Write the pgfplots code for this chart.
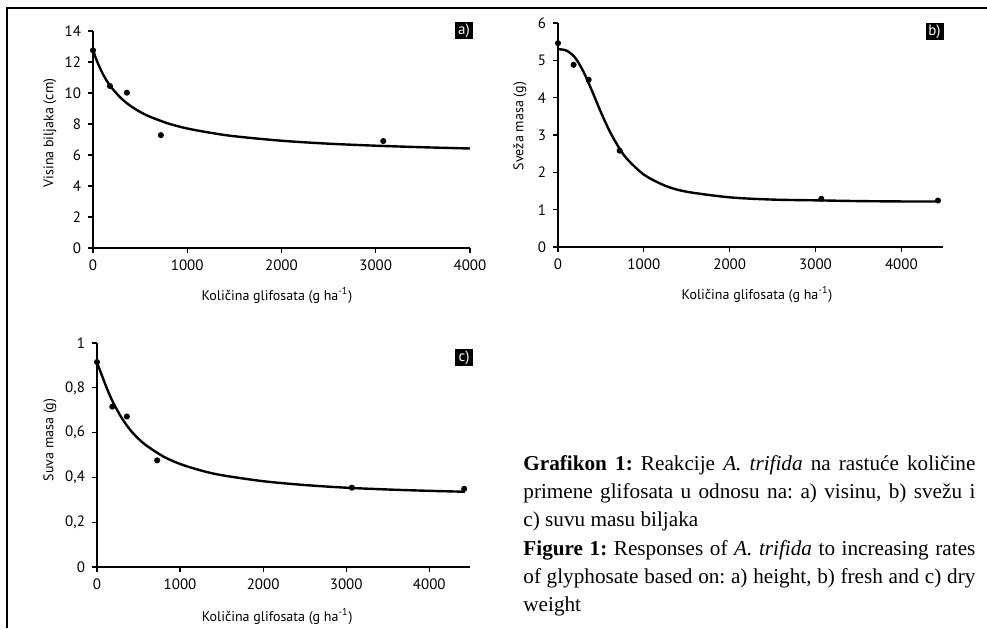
\documentclass[border=0pt]{standalone}
\usepackage{fontspec}
\setmainfont{Liberation Serif}
\setsansfont{PT Sans}
\usepackage{pgfplots}
\pgfplotsset{compat=1.18}

\pgfplotsset{
  panel/.style={
    scale only axis, anchor=south west,
    axis x line*=bottom, axis y line*=left,
    axis line style={line width=0.6pt},
    tick align=outside, major tick length=2.5pt,
    tick style={line width=0.6pt, black},
    xmin=0, ymin=0,
    xtick={0,1000,2000,3000,4000},
    /pgf/number format/assume math mode=true,
    /pgf/number format/use comma,
    /pgf/number format/1000 sep={},
    scaled x ticks=false,
    tick label style={font=\sffamily\fontsize{7.5}{9}\selectfont},
    label style={font=\sffamily\fontsize{7}{8.5}\selectfont},
    clip=false,
  },
  fitline/.style={line width=1.2pt, black, smooth, no markers},
  obs/.style={only marks, mark=*, mark size=1.3pt, black},
}
\tikzset{lab/.style={fill=black, text=white, font=\sffamily\fontsize{7.5}{9}\selectfont,
  inner sep=0pt, minimum width=9pt, minimum height=8.5pt}}

\begin{document}
\begin{tikzpicture}
\useasboundingbox (0pt,0pt) rectangle (493.5pt,314pt);
\draw[line width=0.8pt] (3.5pt,0pt) -- (3.5pt,310pt) -- (493.5pt,310pt);

% a) height
\begin{axis}[panel, at={(46.5pt,190pt)}, width=188.5pt, height=108.5pt,
  xmax=4000, ymax=14, ytick={0,2,4,6,8,10,12,14},
  xlabel={Količina glifosata (g ha\textsuperscript{-1})},
  ylabel={Visina biljaka (cm)},
  xlabel style={at={(axis description cs:0.488,-0.217)}, anchor=center},
  ylabel style={at={(axis description cs:-0.114,0.53)}, anchor=center}]
\addplot[fitline] coordinates {
  (0,12.80) (25,12.33) (50,11.94) (100,11.28) (150,10.75) (200,10.32)
  (300,9.65) (400,9.16) (500,8.78) (600,8.48) (800,8.03) (1000,7.71)
  (1250,7.43) (1500,7.21) (2000,6.92) (2500,6.73) (3000,6.60) (3500,6.50) (4000,6.42)};
\addplot[obs] coordinates {(0,12.75) (180,10.45) (360,10.02) (720,7.28) (3080,6.90)};
\end{axis}

% b) fresh weight
\begin{axis}[panel, at={(279pt,190.5pt)}, width=192.5pt, height=112pt,
  xmax=4485, ymax=6, ytick={0,1,2,3,4,5,6},
  xlabel={Količina glifosata (g ha\textsuperscript{-1})},
  ylabel={Sveža masa (g)},
  xlabel style={at={(axis description cs:0.517,-0.214)}, anchor=center},
  ylabel style={at={(axis description cs:-0.099,0.54)}, anchor=center}]
\addplot[fitline] coordinates {
  (0,5.30) (100,5.26) (200,5.07) (300,4.68) (400,4.16) (500,3.61)
  (600,3.11) (700,2.70) (800,2.37) (1000,1.94) (1250,1.64) (1500,1.48)
  (2000,1.33) (2500,1.27) (3000,1.25) (3500,1.23) (4000,1.22) (4430,1.22)};
\addplot[obs] coordinates {(0,5.46) (182,4.88) (357,4.48) (718,2.58) (3067,1.29) (4426,1.245)};
\end{axis}

% c) dry weight
\begin{axis}[panel, at={(48.5pt,30.5pt)}, width=186.5pt, height=112pt,
  xmax=4490, ymax=1, ytick={0,0.2,0.4,0.6,0.8,1},
  xlabel={Količina glifosata (g ha\textsuperscript{-1})},
  ylabel={Suva masa (g)},
  xlabel style={at={(axis description cs:0.483,-0.223)}, anchor=center},
  ylabel style={at={(axis description cs:-0.126,0.567)}, anchor=center}]
\addplot[fitline] coordinates {
  (0,0.910) (25,0.889) (50,0.864) (100,0.815) (150,0.770) (200,0.730)
  (300,0.664) (400,0.612) (500,0.572) (600,0.541) (800,0.493) (1000,0.460)
  (1250,0.431) (1500,0.410) (2000,0.383) (2500,0.366) (3000,0.354)
  (3500,0.346) (4000,0.340) (4430,0.336)};
\addplot[obs] coordinates {(0,0.915) (184,0.716) (360,0.672) (724,0.476) (3068,0.354) (4420,0.349)};
\end{axis}

\node[lab] at (232pt,298.75pt) {a)};
\node[lab] at (467.25pt,298.25pt) {b)};
\node[lab] at (232pt,135.25pt) {c)};

\node[anchor=north west, inner sep=0pt, text width=226pt, align=justify,
  font=\fontsize{10.6}{14.15}\selectfont] at (261.5pt,86.5pt)
{\hyphenpenalty=10000\frenchspacing
\textbf{Grafikon 1:} Reakcije \textit{A. trifida} na rastuće količine\linebreak
primene glifosata u odnosu na: a) visinu, b) svežu i\linebreak
c) suvu masu biljaka\\
\textbf{Figure 1:} Responses of \textit{A. trifida} to increasing rates\linebreak
of glyphosate based on: a) height, b) fresh and c) dry\linebreak
weight};
\end{tikzpicture}
\end{document}
